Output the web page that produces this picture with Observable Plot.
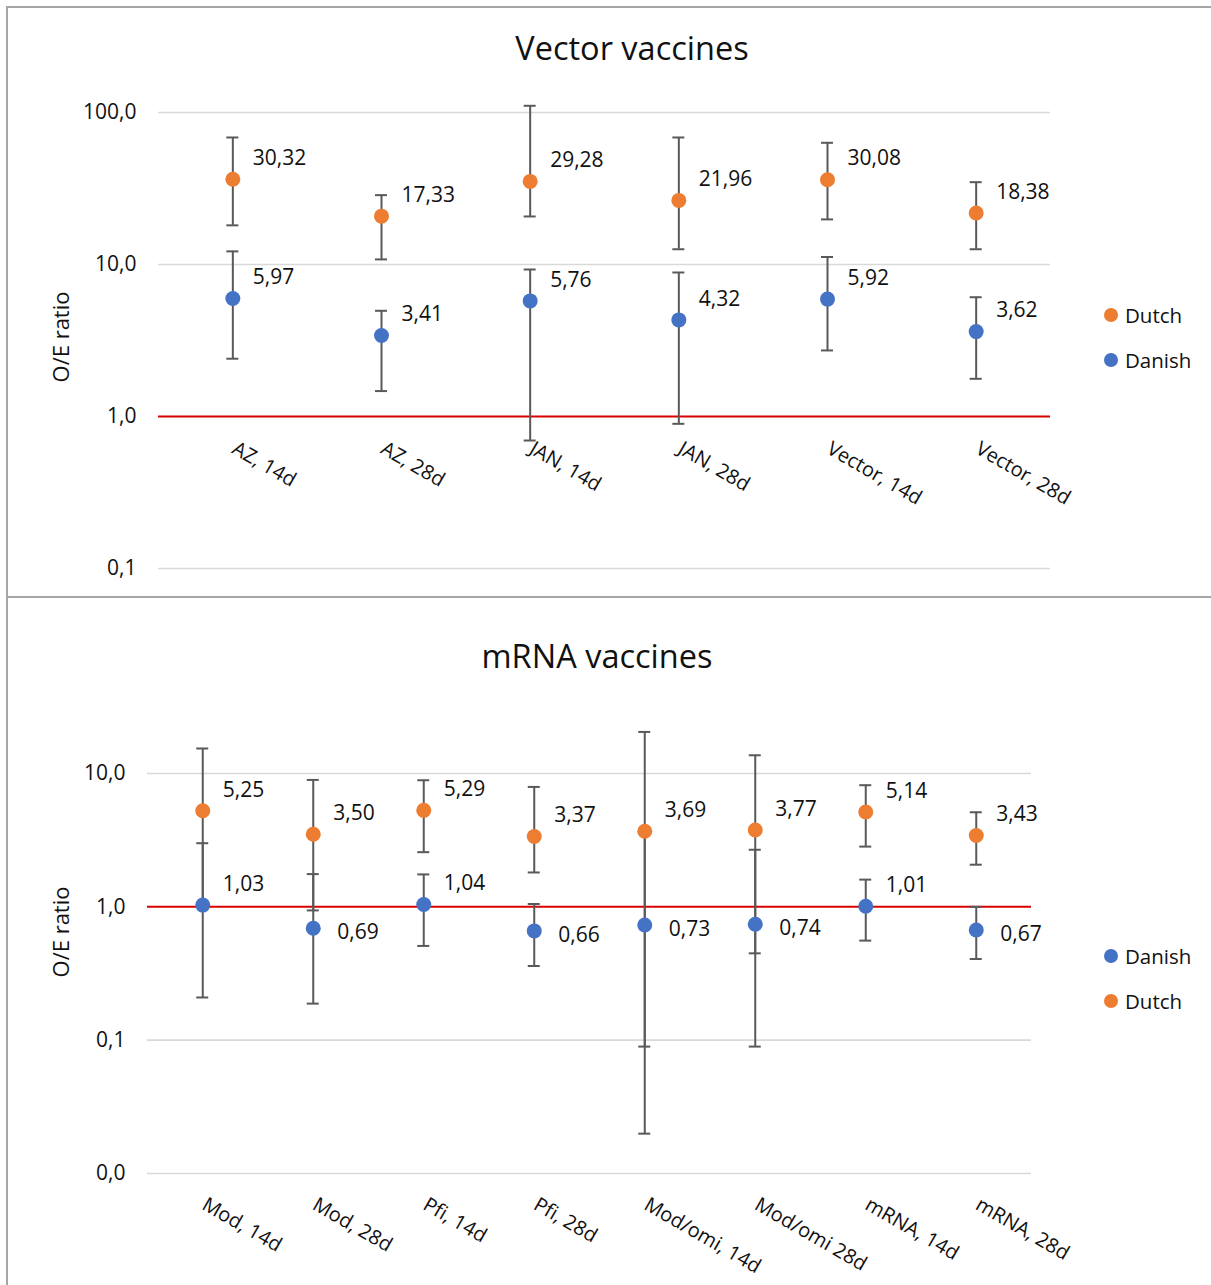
<!DOCTYPE html>
<html><head><meta charset="utf-8">
<script src="https://cdn.jsdelivr.net/npm/d3@7"></script>
<script src="https://cdn.jsdelivr.net/npm/@observablehq/plot@0.6"></script>
<style>
body{margin:0;width:1211px;height:1285px;overflow:hidden;background:#fff;font-family:"Open Sans",sans-serif;color:#111;position:relative}
.panel{position:absolute;left:6px;width:1300px;border:2px solid #a6a6a6;box-sizing:border-box}
.chart{position:absolute;left:0}
.title{position:absolute;left:0;font-size:32.5px;line-height:1;text-align:center;white-space:nowrap}
.ytitle{position:absolute;font-size:22px;line-height:1;transform:translate(-50%,-50%) rotate(-90deg);white-space:nowrap}
.legend-item{position:absolute;display:flex;align-items:center;font-size:20.5px;line-height:20px;height:20px;white-space:nowrap}
.legend-item .sw{width:14px;height:14px;border-radius:50%;margin-right:7px;display:inline-block}
</style></head><body>
<div class="panel" style="top:6px;height:592px"></div>
<div class="panel" style="top:596px;height:800px"></div>
<div id="top" class="chart" style="top:0"></div>
<div id="bottom" class="chart" style="top:600px"></div>
<div class="title" style="top:32px;width:1264px">Vector vaccines</div>
<div class="title" style="top:640px;width:1194px">mRNA vaccines</div>
<div class="ytitle" style="left:60px;top:337px">O/E ratio</div>
<div class="ytitle" style="left:60px;top:932px">O/E ratio</div>
<div id="legTop"></div>
<div id="legBottom"></div>
<script>
// ---------- data: Vector vaccines ----------
const vectorCategories = ["AZ, 14d", "AZ, 28d", "JAN, 14d", "JAN, 28d", "Vector, 14d", "Vector, 28d"];
const vectorDutch      = [36.4, 20.8, 35.2, 26.4, 36.1, 21.8];
const vectorDutchLow   = [18.1, 10.8, 20.7, 12.6, 19.8, 12.6];
const vectorDutchHigh  = [68.5, 28.6, 110.7, 68.5, 63.2, 34.8];
const vectorDutchLabels = [30.32, 17.33, 29.28, 21.96, 30.08, 18.38];
const vectorDanish     = [5.97, 3.41, 5.76, 4.32, 5.92, 3.62];
const vectorDanishLow  = [2.40, 1.47, 0.695, 0.895, 2.72, 1.77];
const vectorDanishHigh = [12.2, 4.96, 9.27, 8.86, 11.2, 6.09];
const vectorDanishLabels = [5.97, 3.41, 5.76, 4.32, 5.92, 3.62];
const vectorTicks = [0.1, 1, 10, 100];

// ---------- data: mRNA vaccines ----------
const mrnaCategories = ["Mod, 14d", "Mod, 28d", "Pfi, 14d", "Pfi, 28d", "Mod/omi, 14d", "Mod/omi 28d", "mRNA, 14d", "mRNA, 28d"];
const mrnaDanish      = [1.03, 0.69, 1.04, 0.66, 0.73, 0.74, 1.01, 0.67];
const mrnaDanishLow   = [0.209, 0.188, 0.509, 0.36, 0.0199, 0.0895, 0.558, 0.406];
const mrnaDanishHigh  = [3.0, 1.76, 1.75, 1.05, 3.7, 2.68, 1.60, 1.0];
const mrnaDanishLabels = [1.03, 0.69, 1.04, 0.66, 0.73, 0.74, 1.01, 0.67];
const mrnaDutch       = [5.25, 3.50, 5.29, 3.37, 3.69, 3.77, 5.14, 3.43];
const mrnaDutchLow    = [1.05, 0.94, 2.57, 1.81, 0.0895, 0.448, 2.83, 2.07];
const mrnaDutchHigh   = [15.4, 8.95, 8.9, 7.93, 20.5, 13.7, 8.17, 5.12];
const mrnaDutchLabels = [5.25, 3.50, 5.29, 3.37, 3.69, 3.77, 5.14, 3.43];
const mrnaTicks = [0.01, 0.1, 1, 10];

const baseline = 1;
const DUTCH = "#ED7D31", DANISH = "#4472C4";
const fmtTick = v => v.toFixed(1).replace(".", ",");
const fmtLabel = v => v.toFixed(2).replace(".", ",");

function makeChart({cats, series, ticks, domain, marginLeft, marginRight, marginTop, marginBottom, height, labelsAtBaseline}) {
  const W = 1211;
  const bw = (W - marginLeft - marginRight) / cats.length;
  const capInset = bw / 2 - 6;
  const marks = [
    Plot.ruleY(ticks.filter(t => t !== baseline), {stroke: "#d9d9d9", strokeWidth: 1.6}),
    Plot.ruleY([baseline], {stroke: "#d90000", strokeWidth: 2}),
    Plot.axisY({ticks, tickFormat: fmtTick, tickSize: 0, tickPadding: 22, fontSize: 21, fill: "#111"})
  ];
  const rowsOf = s => cats.map((c, i) => ({cat: c, v: s.values[i], lo: s.low[i], hi: s.high[i], label: s.labels[i]}));
  for (const s of series) {
    const rows = rowsOf(s);
    marks.push(
      Plot.ruleX(rows, {x: "cat", y1: "lo", y2: "hi", stroke: "#595959", strokeWidth: 2}),
      Plot.tickY(rows, {x: "cat", y: "hi", stroke: "#595959", strokeWidth: 2, insetLeft: capInset, insetRight: capInset}),
      Plot.tickY(rows, {x: "cat", y: "lo", stroke: "#595959", strokeWidth: 2, insetLeft: capInset, insetRight: capInset})
    );
  }
  for (const s of series) {
    const rows = rowsOf(s);
    const above = rows.filter(d => d.label >= baseline);
    const below = rows.filter(d => d.label < baseline);
    marks.push(
      Plot.dot(rows, {x: "cat", y: "v", fill: s.color, r: 7.5}),
      Plot.text(above, {x: "cat", y: "v", text: d => fmtLabel(d.label), dx: 20, dy: -21, textAnchor: "start", fontSize: 21, fill: "#111"}),
      Plot.text(below, {x: "cat", y: "v", text: d => fmtLabel(d.label), dx: 24, dy: 4, textAnchor: "start", fontSize: 21, fill: "#111"})
    );
  }
  marks.push(labelsAtBaseline
    ? Plot.text(cats, {x: d => d, y: () => baseline, rotate: 30, textAnchor: "start", lineAnchor: "bottom", dx: -2, dy: 36, fontSize: 20, fill: "#111"})
    : Plot.text(cats, {x: d => d, frameAnchor: "bottom", rotate: 30, textAnchor: "start", lineAnchor: "bottom", dx: -2, dy: 35, fontSize: 20, fill: "#111"}));
  return Plot.plot({
    width: W, height, marginLeft, marginRight, marginTop, marginBottom,
    x: {type: "band", domain: cats, padding: 0, round: false, axis: null},
    y: {type: "log", domain, axis: null},
    style: {fontFamily: "Open Sans", fontSize: "20px", background: "transparent", overflow: "visible", color: "#111"},
    marks
  });
}

document.getElementById("top").append(makeChart({
  cats: vectorCategories,
  series: [
    {name: "Dutch", color: DUTCH, values: vectorDutch, low: vectorDutchLow, high: vectorDutchHigh, labels: vectorDutchLabels},
    {name: "Danish", color: DANISH, values: vectorDanish, low: vectorDanishLow, high: vectorDanishHigh, labels: vectorDanishLabels}
  ],
  ticks: vectorTicks, domain: [0.1, 100],
  marginLeft: 158, marginRight: 161, marginTop: 112, marginBottom: 32, height: 600,
  labelsAtBaseline: true
}));

document.getElementById("bottom").append(makeChart({
  cats: mrnaCategories,
  series: [
    {name: "Danish", color: DANISH, values: mrnaDanish, low: mrnaDanishLow, high: mrnaDanishHigh, labels: mrnaDanishLabels},
    {name: "Dutch", color: DUTCH, values: mrnaDutch, low: mrnaDutchLow, high: mrnaDutchHigh, labels: mrnaDutchLabels}
  ],
  ticks: mrnaTicks, domain: [0.01, 10],
  marginLeft: 147, marginRight: 180, marginTop: 173, marginBottom: 112, height: 685,
  labelsAtBaseline: false
}));

function legend(el, items, top0) {
  items.forEach((it, i) => {
    const d = document.createElement("div");
    d.className = "legend-item";
    d.style.left = "1104px";
    d.style.top = (top0 + i * 45 - 10) + "px";
    d.innerHTML = `<span class="sw" style="background:${it.color}"></span>${it.name}`;
    el.append(d);
  });
}
legend(document.getElementById("legTop"), [{name: "Dutch", color: DUTCH}, {name: "Danish", color: DANISH}], 315);
legend(document.getElementById("legBottom"), [{name: "Danish", color: DANISH}, {name: "Dutch", color: DUTCH}], 956);
</script>
</body></html>
